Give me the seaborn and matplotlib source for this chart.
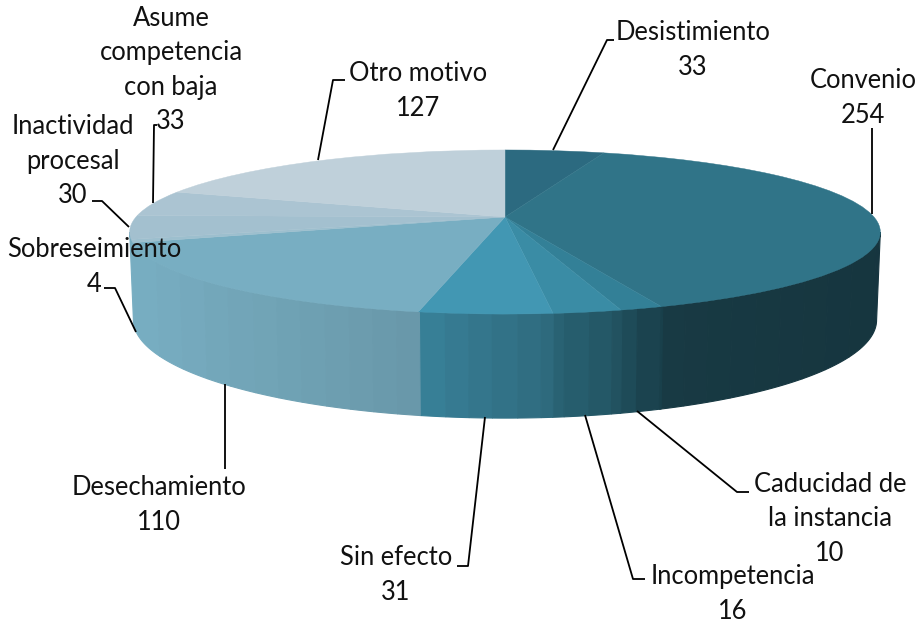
import numpy as np
import matplotlib
matplotlib.use("Agg")
import matplotlib.pyplot as plt
from matplotlib.transforms import Transform
import seaborn as sns

# datos
motivos = ["Desistimiento", "Convenio", "Caducidad de\nla instancia", "Incompetencia",
           "Sin efecto", "Desechamiento", "Sobreseimiento", "Inactividad\nprocesal",
           "Asume\ncompetencia\ncon baja", "Otro motivo"]
valores = [33, 254, 10, 16, 31, 110, 4, 30, 33, 127]

colores = ["#2C6A80", "#307488", "#338097", "#3A8CA5", "#4297B3",
           "#78AEC2", "#9DBFCE", "#A3C0CF", "#ABC4D2", "#BFD0DA"]

# posicion de las etiquetas (centro del bloque, en pixeles)
etiqueta_x = [693, 863, 830, 733, 396, 159, 94, 73, 171, 418]
etiqueta_y = [50, 98, 519, 594, 575, 505, 267, 161, 70, 91]

# lineas guia, en pixeles
guias = [
    [(553, 150), (607, 40), (614, 40)],
    [(872, 214), (872, 128)],
    [(637, 411), (737, 492), (749, 492)],
    [(585, 415), (633, 579), (645, 579)],
    [(485, 417), (468, 566), (457, 566)],
    [(225, 384), (225, 469)],
    [(136, 332), (115, 288), (104, 288)],
    [(129, 227), (102, 201), (92, 201)],
    [(153, 203), (154, 125), (157, 125)],
    [(318, 160), (333, 80), (345, 80)],
]

# geometria de la perspectiva
cx, cy = 505, 217
A, B, k = 369, 79.3, 0.183
prof = 85


class Perspectiva(Transform):
    input_dims = 2
    output_dims = 2

    def __init__(self, z=0.0, encoge=1.0):
        super().__init__()
        self.z = z
        self.encoge = encoge

    def transform_non_affine(self, xy):
        xy = np.asarray(xy, dtype=float)
        w = 1 + k * xy[:, 1]
        return np.column_stack([cx + self.encoge * A * xy[:, 0] / w,
                                cy + (-B * xy[:, 1] + self.z) / w])


sns.set_theme(style="white")
plt.rcParams['font.family'] = ['Lato', 'DejaVu Sans']

fig = plt.figure(figsize=(9.23, 6.22), dpi=100)
ax = fig.add_axes([0, 0, 1, 1])

paleta = sns.color_palette(colores)
wedges, _ = ax.pie(valores, colors=paleta, startangle=90, counterclock=False, radius=1)

ax.set_aspect("auto")
ax.set_xlim(0, 923)
ax.set_ylim(622, 0)
ax.axis("off")

arriba = Perspectiva()
abajo = Perspectiva(z=prof, encoge=0.99)

# sombreado de la pared lateral segun x
som_x = [-1.0, -0.23, -0.22, 0.125, 0.3, 0.41, 1.0]
som_f = [1.0, 0.87, 0.85, 0.70, 0.60, 0.50, 0.46]


def pared(t1, t2, color, f):
    ang = np.radians(np.linspace(t1, t2, 12))
    p = np.column_stack([np.cos(ang), np.sin(ang)])
    sup = arriba.transform(p)
    inf = abajo.transform(p)[::-1]
    cont = np.vstack([sup, inf])
    c = tuple(np.array(color) * f)
    ax.fill(cont[:, 0], cont[:, 1], color=c, lw=0.8, zorder=2)


for i, (w, color) in enumerate(zip(wedges, paleta)):
    w.set_transform(arriba + ax.transData)
    w.set_edgecolor(color)
    w.set_linewidth(0.3)
    w.set_zorder(3)

    # la pared se parte en bandas verticales de color
    ts = np.arange(w.theta1, w.theta2 + 0.25, 0.25)
    ts = ts[np.sin(np.radians(ts)) < -k]
    if len(ts) < 2:
        continue
    xs = arriba.transform(np.column_stack([np.cos(np.radians(ts)), np.sin(np.radians(ts))]))[:, 0]
    bandas = np.round(xs / 24) * 24
    inicio = 0
    for j in range(1, len(ts)):
        if bandas[j] != bandas[inicio] or j == len(ts) - 1:
            f = np.interp((bandas[inicio] - cx) / 375, som_x, som_f)
            pared(ts[inicio], ts[j], paleta[min(i, 5)], f)
            inicio = j

for g in guias:
    g = np.array(g)
    ax.plot(g[:, 0], g[:, 1], color="black", lw=1.3, zorder=4, solid_capstyle="butt")

for nombre, valor, x, y in zip(motivos, valores, etiqueta_x, etiqueta_y):
    ax.text(x, y, f"{nombre}\n{valor}", ha="center", va="center", fontsize=18.4,
            color="#111111", linespacing=1.46, zorder=5)

plt.savefig("out.png", dpi=100)
